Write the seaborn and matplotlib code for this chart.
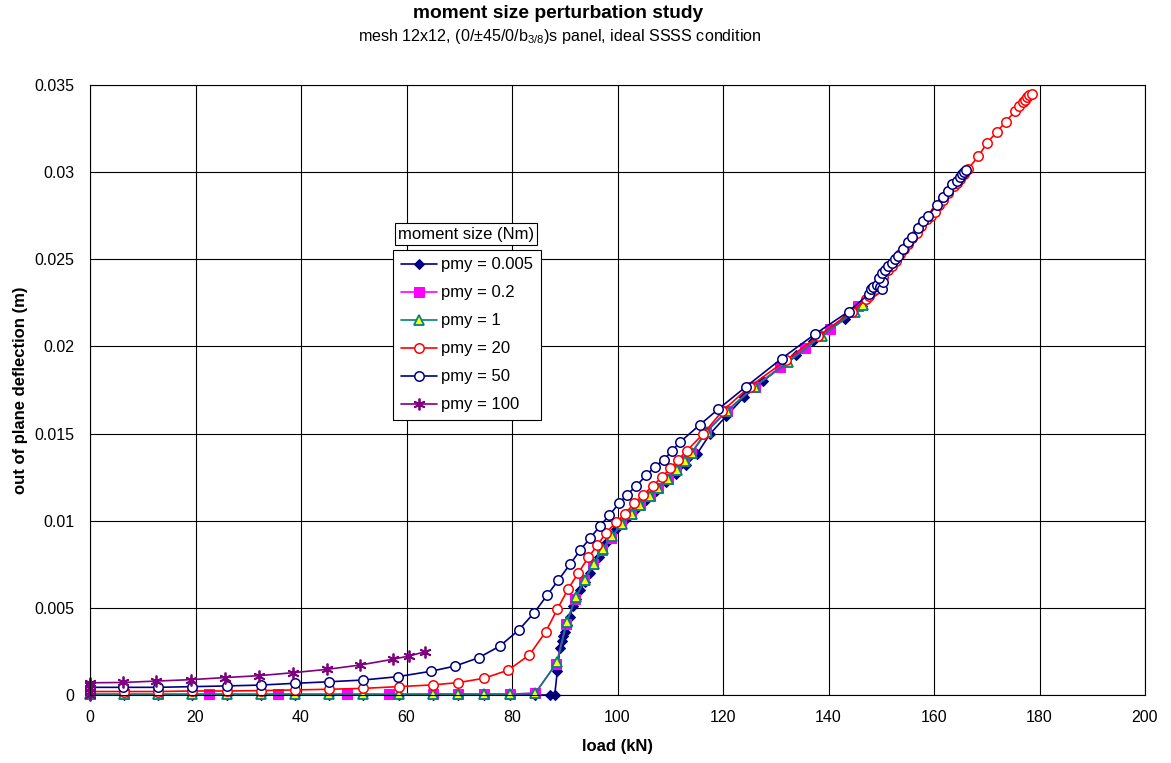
import numpy as np
import pandas as pd
import matplotlib
matplotlib.use("Agg")
import matplotlib.pyplot as plt
import seaborn as sns

# ---------------- data ----------------
load_0005 = [0, 6.5, 12.8, 19.4, 25.9, 32.4, 38.8, 45.4, 51.8, 58.5, 65.0, 69.8, 74.7, 79.6, 84.4,
             87.2, 88.1, 88.6, 89.1, 89.4, 89.7, 90.0, 90.5, 91.0, 91.6, 92.2, 92.9, 93.8, 94.7,
             96.4, 97.9, 99.7, 101.6, 103.5, 105.4, 107.3, 109.2, 111.1, 113.0, 115.0, 117.6,
             120.6, 124.0, 127.5, 133.9, 137.1, 143.2, 146.3]
defl_0005 = [0, 0, 0, 0, 0, 0, 0, 0, 0, 0, 0, 0, 0, 0, 0,
             0, 0, 0.0014, 0.0027, 0.0031, 0.0034, 0.0036, 0.0040, 0.0045, 0.0051, 0.0055, 0.0060, 0.0065, 0.0070,
             0.0079, 0.0087, 0.0095, 0.0101, 0.0107, 0.0112, 0.0117, 0.0122, 0.0127, 0.0132, 0.0138, 0.0150,
             0.0160, 0.0171, 0.0180, 0.0195, 0.0203, 0.0216, 0.0223]

load_02 = [0, 6.5, 12.8, 22.6, 35.7, 48.7, 56.7, 65.0, 69.8, 74.7, 79.6, 84.4, 88.4, 90.3, 92.0,
           93.7, 95.4, 97.1, 98.8, 100.7, 102.6, 104.2, 106.1, 107.6, 109.5, 111.1, 112.7, 114.0,
           116.8, 120.7, 126.0, 130.8, 135.5, 140.3, 145.6]
defl_02 = [0.00003, 0.00003, 0.00003, 0.00003, 0.00003, 0.00003, 0.00003, 0.00005, 0.00005, 0.00005,
           0.00005, 0.0001, 0.0018, 0.0041, 0.0055, 0.0066, 0.0075, 0.0083, 0.0090, 0.0098, 0.0104,
           0.0109, 0.0114, 0.0119, 0.0124, 0.0129, 0.0134, 0.0139, 0.0151, 0.0163, 0.0177, 0.0188,
           0.0199, 0.0210, 0.0223]

load_1 = [0, 6.5, 12.8, 19.4, 25.9, 32.4, 38.8, 45.4, 51.8, 58.5, 65.0, 69.8, 74.7, 79.6, 84.4,
          88.6, 90.4, 92.1, 93.8, 95.5, 97.2, 98.9, 100.8, 102.7, 104.3, 106.2, 107.7, 109.6, 111.2,
          112.8, 114.1, 116.9, 120.8, 126.1, 132.4, 138.7, 145.0, 146.6]
defl_1 = [0.00005, 0.00005, 0.00005, 0.00005, 0.00005, 0.00005, 0.00005, 0.00005, 0.00005, 0.00005,
          0.00005, 0.00005, 0.00005, 0.00005, 0.0001, 0.0019, 0.0042, 0.0056, 0.0066, 0.0075, 0.0084,
          0.0091, 0.0098, 0.0104, 0.0109, 0.0114, 0.0119, 0.0124, 0.0129, 0.0134, 0.0139, 0.0151,
          0.0163, 0.0177, 0.0191, 0.0206, 0.0220, 0.0224]

load_20 = [0, 6.5, 12.8, 19.4, 25.9, 32.4, 38.8, 45.4, 51.8, 58.5, 65.0, 69.8, 74.7, 79.3, 83.3,
           86.4, 88.6, 90.6, 92.6, 94.5, 96.2, 97.8, 99.7, 101.4, 103.2, 104.9, 106.7, 108.4, 110.0,
           111.5, 113.1, 116.3, 119.9, 125.1, 131.9, 138.1, 144.4, 147.2, 147.7, 148.1, 148.5, 149.0,
           149.6, 150.4, 151.2, 152.0, 152.8, 153.6, 154.3, 155.1, 155.9, 156.7, 157.6, 158.6, 159.4,
           160.2, 161.0, 161.8, 162.7, 163.7, 164.3, 165.0, 165.7, 166.5, 168.4, 170.1, 171.9, 173.6,
           175.4, 176.2, 176.8, 177.3, 177.7, 178.1, 178.5]
defl_20 = [0.0002, 0.0002, 0.0002, 0.00023, 0.00023, 0.00025, 0.00029, 0.00033, 0.00038, 0.00048,
           0.00058, 0.00071, 0.00096, 0.00143, 0.0023, 0.00363, 0.00493, 0.00606, 0.00702, 0.0079,
           0.0086, 0.0093, 0.0099, 0.0104, 0.0110, 0.0115, 0.0120, 0.0125, 0.0130, 0.0135, 0.0140,
           0.0150, 0.0163, 0.0177, 0.0192, 0.0206, 0.0220, 0.0227, 0.0229, 0.0231, 0.0232, 0.0233,
           0.0236, 0.0240, 0.0244, 0.0246, 0.0249, 0.0253, 0.0256, 0.0259, 0.0262, 0.0265, 0.0269,
           0.0273, 0.0275, 0.0277, 0.0281, 0.0284, 0.0288, 0.0292, 0.0294, 0.0296, 0.0299, 0.0302,
           0.0309, 0.0317, 0.0323, 0.0329, 0.0335, 0.0338, 0.0340, 0.03415, 0.0343, 0.0344, 0.0345]

load_50 = [0, 6.3, 12.8, 19.4, 25.9, 32.4, 38.8, 45.4, 51.8, 58.3, 64.6, 69.2, 73.7, 77.7, 81.3,
           84.2, 86.7, 88.8, 91.0, 92.9, 94.8, 96.7, 98.4, 100.3, 101.8, 103.6, 105.4, 107.1, 108.8,
           110.3, 111.8, 115.6, 119.1, 124.4, 131.1, 137.4, 143.8, 147.6, 148.0, 148.5, 149.1, 149.7,
           150.2, 150.4, 149.6, 150.1, 150.7, 151.3, 152.0, 152.6, 153.2, 154.2, 155.0, 155.8, 157.0,
           158.0, 158.9, 160.5, 161.8, 162.6, 163.5, 164.3, 165.0, 165.4, 165.7, 166.0]
defl_50 = [0.00044, 0.00044, 0.00044, 0.00048, 0.00052, 0.00057, 0.00067, 0.00076, 0.00086, 0.00105,
           0.00136, 0.00166, 0.00214, 0.00281, 0.00373, 0.00472, 0.00574, 0.0066, 0.0075, 0.0083,
           0.0090, 0.0097, 0.0103, 0.0110, 0.0115, 0.0120, 0.0126, 0.0131, 0.0135, 0.0140, 0.0145,
           0.0155, 0.0164, 0.0177, 0.0193, 0.0207, 0.0220, 0.0230, 0.0233, 0.0234, 0.0235, 0.0234,
           0.0233, 0.0237, 0.0239, 0.0242, 0.0244, 0.0246, 0.0248, 0.0250, 0.0252, 0.0256, 0.0260,
           0.0263, 0.0268, 0.0272, 0.0275, 0.0281, 0.0286, 0.0289, 0.0293, 0.0295, 0.0297, 0.0299,
           0.0300, 0.0301]

load_100 = [0, 0, 0, 0, 0, 6.3, 12.6, 19.1, 25.6, 32.1, 38.5, 44.9, 51.2, 57.4, 60.5, 63.5]
defl_100 = [0.0, 0.0002, 0.0004, 0.0006, 0.0007, 0.00072, 0.0008, 0.00088, 0.0010, 0.00111,
            0.00128, 0.00147, 0.00172, 0.00205, 0.00224, 0.00248]

labels = ["pmy = 0.005", "pmy = 0.2", "pmy = 1", "pmy = 20", "pmy = 50", "pmy = 100"]

# ---------------- styling ----------------
sns.set_theme(style="white")
plt.rcParams["font.family"] = ["Liberation Sans", "DejaVu Sans"]
plt.rcParams["mathtext.default"] = "regular"
plt.rcParams["text.color"] = "black"
plt.rcParams["axes.labelcolor"] = "black"

fig = plt.figure(figsize=(11.71, 7.63), dpi=100)
ax = fig.add_axes([90 / 1171, 1 - 695 / 763, (1145 - 90) / 1171, (695 - 85) / 763])

series = [
    (load_0005, defl_0005, dict(color="#000080", marker="D", markersize=5,
                                markerfacecolor="#000080", markeredgecolor="#000080")),
    (load_02, defl_02, dict(color="#FF00FF", marker="s", markersize=7,
                            markerfacecolor="#FF00FF", markeredgecolor="#FF00FF")),
    (load_1, defl_1, dict(color="#008080", marker="^", markersize=6.5,
                          markerfacecolor="#FFFF00", markeredgecolor="#008080", markeredgewidth=1.3)),
    (load_20, defl_20, dict(color="#FF0000", marker="o", markersize=6.8,
                            markerfacecolor="white", markeredgecolor="#FF0000", markeredgewidth=1.1)),
    (load_50, defl_50, dict(color="#000080", marker="o", markersize=6.8,
                            markerfacecolor="white", markeredgecolor="#000080", markeredgewidth=1.1)),
    (load_100, defl_100, dict(color="#800080", marker=(6, 2, 0), markersize=8.5,
                              markeredgecolor="#800080", markeredgewidth=1.3)),
]

for (xs, ys, kw), lab in zip(series, labels):
    df = pd.DataFrame({"load": xs, "defl": ys})
    sns.lineplot(data=df, x="load", y="defl", ax=ax, sort=False, estimator=None,
                 linewidth=1.2, clip_on=False, label=lab, **kw)

handles, labs = ax.get_legend_handles_labels()
if ax.get_legend() is not None:
    ax.get_legend().remove()

ax.set_xlim(0, 200)
ax.set_ylim(0, 0.035)
ax.set_xticks(np.arange(0, 201, 20))
ax.set_yticks(np.arange(0, 0.0351, 0.005))
ax.set_yticklabels(["0", "0.005", "0.01", "0.015", "0.02", "0.025", "0.03", "0.035"])
ax.grid(True, color="black", linewidth=0.8)
ax.set_axisbelow(True)
for s in ax.spines.values():
    s.set_color("black")
    s.set_linewidth(0.8)
ax.tick_params(axis="both", which="major", direction="out", length=5, width=0.8,
               color="black", labelsize=11.5, labelcolor="black")
ax.tick_params(axis="x", pad=6)
ax.tick_params(axis="y", pad=6)

ax.set_xlabel("load (kN)", fontsize=12, fontweight="bold", labelpad=10, color="black")
ax.set_ylabel("out of plane deflection (m)", fontsize=12, fontweight="bold", labelpad=5,
              color="black")

fig.text(558 / 1171, 1 - 13 / 763, "moment size perturbation study", ha="center", va="center",
         fontsize=13.8, fontweight="bold", color="black")
fig.text(560 / 1171, 1 - 37 / 763,
         "mesh 12x12, (0/±45/0/b$_{3/8}$)s panel, ideal SSSS condition",
         ha="center", va="center", fontsize=11.6, color="black")

leg = ax.legend(handles, labs, loc="upper left", bbox_to_anchor=(393 / 1171, 1 - 250 / 763),
                bbox_transform=fig.transFigure, fontsize=12, frameon=True, fancybox=False,
                framealpha=1, edgecolor="black", handlelength=2.2, labelspacing=0.78,
                borderpad=0.45, handletextpad=0.25, borderaxespad=0)
leg.get_frame().set_linewidth(0.8)
for t in leg.get_texts():
    t.set_color("black")

fig.text(466 / 1171, 1 - 234 / 763, "moment size (Nm)", ha="center", va="center", fontsize=12,
         color="black",
         bbox=dict(boxstyle="square,pad=0.2", facecolor="white", edgecolor="black", linewidth=0.8))

fig.savefig("out.png", dpi=100)
